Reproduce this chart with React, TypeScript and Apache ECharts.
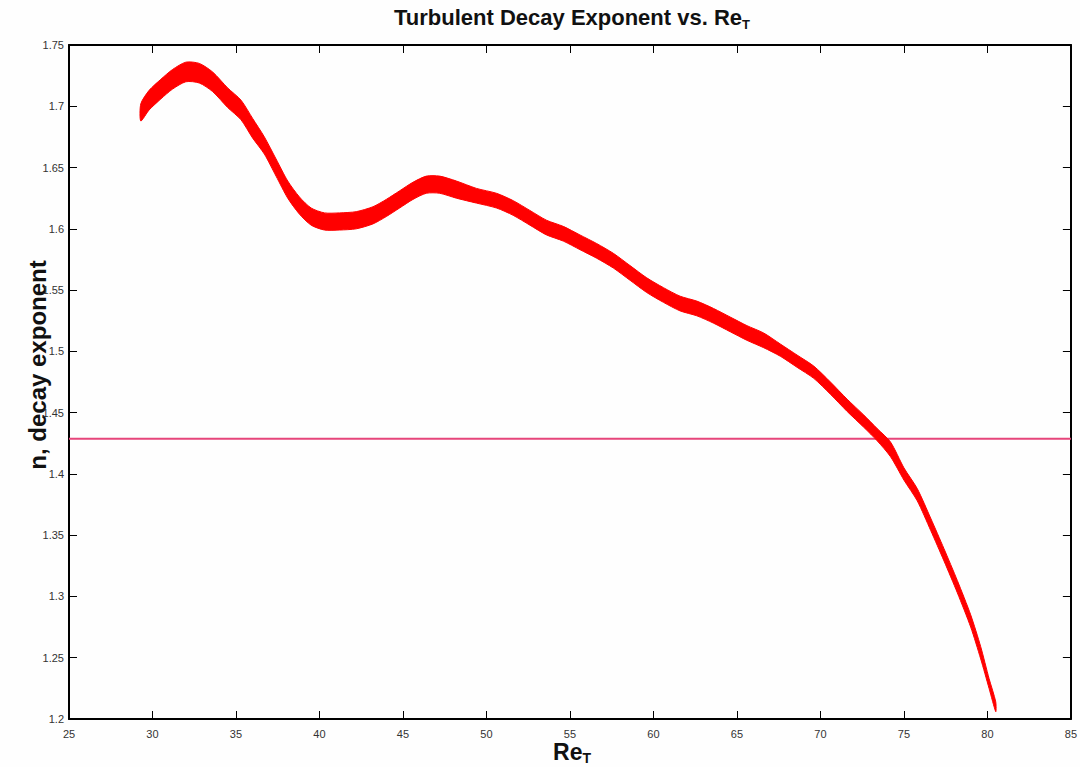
import React, { useEffect, useRef } from "react";
import * as echarts from "echarts";

// Re_T values along the curve
const reT = [
  29.3, 29.8, 30.5, 31.2, 32.0, 32.8, 33.6, 34.5, 35.3, 36.0, 36.7, 37.4, 38.1,
  38.8, 39.5, 40.3, 41.2, 42.2, 43.2, 44.0, 44.8, 45.6, 46.4, 47.2, 48.2, 49.4,
  50.6, 51.6, 52.6, 53.6, 54.6, 55.6, 56.6, 57.6, 58.6, 59.6, 60.6, 61.6, 62.6,
  63.6, 64.6, 65.6, 66.6, 67.6, 68.6, 69.6, 70.6, 71.6, 72.6, 73.4, 74.2, 75.0,
  75.8, 76.6, 77.4, 78.2, 79.0, 79.6, 80.1, 80.5,
];
// decay exponent n (centre of the noisy trace)
const nMid = [
  1.695, 1.705, 1.714, 1.722, 1.728, 1.727, 1.72, 1.707, 1.697, 1.682, 1.668,
  1.65, 1.632, 1.619, 1.61, 1.606, 1.606, 1.607, 1.611, 1.617, 1.624, 1.631,
  1.636, 1.636, 1.632, 1.627, 1.623, 1.617, 1.609, 1.601, 1.596, 1.589, 1.582,
  1.574, 1.564, 1.554, 1.546, 1.539, 1.535, 1.529, 1.522, 1.515, 1.509, 1.501,
  1.492, 1.483, 1.47, 1.456, 1.443, 1.432, 1.42, 1.4, 1.383, 1.359, 1.334,
  1.308, 1.28, 1.254, 1.229, 1.21,
];
// half amplitude of the noise around the centre
const nSpread = [
  0.007, 0.008, 0.008, 0.008, 0.008, 0.008, 0.008, 0.008, 0.008, 0.008, 0.007,
  0.007, 0.007, 0.007, 0.007, 0.007, 0.007, 0.007, 0.007, 0.007, 0.007, 0.007,
  0.007, 0.007, 0.007, 0.006, 0.006, 0.006, 0.006, 0.006, 0.006, 0.006, 0.006,
  0.006, 0.006, 0.006, 0.006, 0.006, 0.006, 0.006, 0.006, 0.006, 0.006, 0.005,
  0.005, 0.005, 0.005, 0.005, 0.005, 0.005, 0.006, 0.005, 0.005, 0.005, 0.005,
  0.005, 0.005, 0.005, 0.004, 0.004,
];
// horizontal reference line (Kolmogorov n = 10/7)
const refLineX = [25, 85];
const refLineN = [1.4286, 1.4286];

const FONT = "Liberation Sans, Arial, sans-serif";

export default function App() {
  const ref = useRef<HTMLDivElement>(null);
  useEffect(() => {
    const chart = echarts.init(ref.current!, null, { renderer: "svg" });
    const upper = reT.map((x, i) => [x, nMid[i] + nSpread[i]]);
    const lower = reT.map((x, i) => [x, nMid[i] - nSpread[i]]);
    const refData = refLineX.map((x, i) => [x, refLineN[i]]);

    const axisCommon = {
      axisLine: { show: true, onZero: false, lineStyle: { color: "#000", width: 2 } },
      axisTick: { show: true, inside: true, length: 8, lineStyle: { color: "#000", width: 1 } },
      splitLine: { show: false },
    };

    chart.setOption({
      animation: false,
      backgroundColor: "#fefefe",
      grid: { left: 69, right: 4, top: 45, bottom: 48, containLabel: false },
      xAxis: [
        {
          type: "value",
          min: 25,
          max: 85,
          interval: 5,
          position: "bottom",
          ...axisCommon,
          axisLabel: { fontSize: 11, color: "#333", margin: 9, fontFamily: FONT },
        },
        {
          type: "value",
          min: 25,
          max: 85,
          interval: 5,
          position: "top",
          ...axisCommon,
          axisLabel: { show: false },
        },
      ],
      yAxis: [
        {
          type: "value",
          min: 1.2,
          max: 1.75,
          interval: 0.05,
          position: "left",
          ...axisCommon,
          axisLabel: {
            fontSize: 11,
            color: "#333",
            margin: 5,
            fontFamily: FONT,
            formatter: (v: number) => String(+v.toFixed(2)),
          },
        },
        {
          type: "value",
          min: 1.2,
          max: 1.75,
          interval: 0.05,
          position: "right",
          ...axisCommon,
          axisLabel: { show: false },
        },
      ],
      series: [
        {
          type: "line",
          data: refData,
          symbol: "none",
          z: 1,
          lineStyle: { color: "#e6457a", width: 2 },
        },
        {
          type: "custom",
          z: 3,
          data: [[reT[0], nMid[0]]],
          renderItem: (_params: any, api: any) => {
            const pts = upper
              .map((p) => api.coord(p))
              .concat(lower.slice().reverse().map((p) => api.coord(p)));
            return {
              type: "polygon",
              shape: { points: pts, smooth: 0.25 },
              style: { fill: "#ff0000", stroke: "#ff0000", lineWidth: 1 },
            };
          },
        },
      ],
      graphic: [
        {
          type: "text",
          x: 572,
          y: 18,
          style: {
            text: "{a|Turbulent Decay Exponent vs. Re}{s|T}",
            align: "center",
            verticalAlign: "middle",
            rich: {
              a: { fontSize: 22, fontWeight: "bold", fontFamily: FONT, fill: "#111", lineHeight: 24, verticalAlign: "top" },
              s: { fontSize: 13, fontWeight: "bold", fontFamily: FONT, fill: "#111", lineHeight: 13, verticalAlign: "top", padding: [12, 0, 0, 0] },
            },
          },
        },
        {
          type: "text",
          x: 572,
          y: 752,
          style: {
            text: "{a|Re}{s|T}",
            align: "center",
            verticalAlign: "middle",
            rich: {
              a: { fontSize: 23, fontWeight: "bold", fontFamily: FONT, fill: "#111", lineHeight: 24, verticalAlign: "top" },
              s: { fontSize: 14, fontWeight: "bold", fontFamily: FONT, fill: "#111", lineHeight: 14, verticalAlign: "top", padding: [11, 0, 0, 0] },
            },
          },
        },
        {
          type: "text",
          x: 37,
          y: 365,
          rotation: Math.PI / 2,
          style: {
            text: "n, decay exponent",
            align: "center",
            verticalAlign: "middle",
            fontSize: 24,
            fontWeight: "bold",
            fontFamily: FONT,
            fill: "#111",
          },
        },
      ],
    });
    return () => chart.dispose();
  }, []);
  return (
    <div
      ref={ref}
      style={{ position: "fixed", left: 0, top: 0, width: 1080, height: 767 }}
    />
  );
}
